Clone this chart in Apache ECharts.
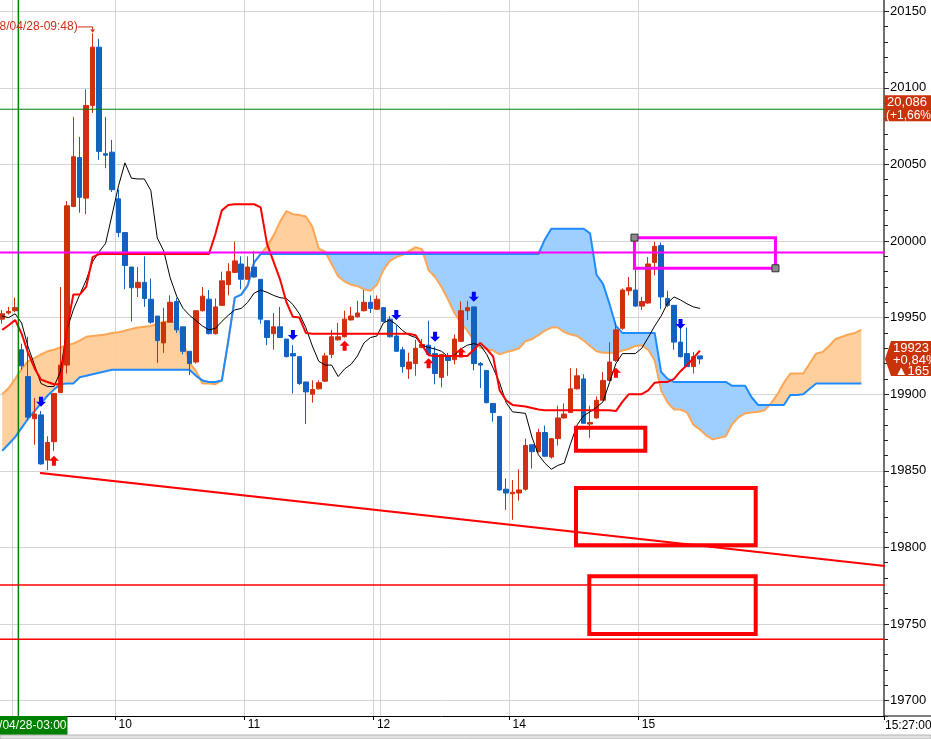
<!DOCTYPE html>
<html><head><meta charset="utf-8">
<script src="https://cdn.jsdelivr.net/npm/echarts@6/dist/echarts.min.js"></script>
<style>html,body{margin:0;padding:0;background:#fff;}#c{width:931px;height:739px;}</style>
</head><body><div id="c"></div>
<script>
// ---------- data ----------
const slotCount = 137;
const categories = Array.from({length: slotCount}, (_, i) => String(i));
const tickIndex = [18, 38, 58, 79, 99];
const tickText = ['10', '11', '12', '14', '15'];
const gridLineIdx = [2, 18, 38, 58, 59, 79, 99];
const sessionStartIdx = 3;

const open = [19949,19953,19954.5,19929,19911.5,19884,19886.5,19857,19869,19901,
19919,20022.5,20054.5,20028,20088.5,20126.5,20057,20058,20027.5,20005.5,
19983,19969.5,19973,19962,19951,19933.5,19947,19960.5,19944,19928,
19921,19954.5,19962,19939.5,19958,19971.5,19979.5,19985,19975,19983,
19975,19948,19939.5,19944,19936,19926.5,19924.5,19908,19900,19903.5,
19908.5,19926,19935.5,19937.5,19948.5,19950.5,19954.5,19960,19955.5,19956.5,
19949,19938,19929,19916.5,19920,19930.5,19932,19926.5,19911,19924.5,
19922.5,19934.5,19954.5,19957,19920,19915.5,19894,19885.5,19838,19835,
19835.5,19838,19867,19862.5,19875,19859,19871,19884.5,19888,19903.5,
19910,19880.5,19884.5,19896,19909,19922,19943,19967.5,19968,19957.5,
19959.5,19986,19997,19962.5,19958,19934,19926.5,19918,19925];
const close = [19952.5,19954,19956.5,19918.5,19885,19887,19854.5,19868.5,19900.5,19919,
20023,20055,20028.5,20088.5,20126.5,20058.5,20056,20033.5,20005.5,19984,
19969.5,19973,19962.5,19947,19935,19947,19960,19942,19928,19920,
19954.5,19964,19939.5,19957,19974,19980,19987,19975,19983,19976.5,
19949,19937,19944,19937,19924.5,19925,19907,19901.5,19903,19907.5,
19925,19937.5,19937.5,19949,19951,19953,19960,19956,19962,19947.5,
19937.5,19928,19918,19921,19930,19932.5,19926,19913.5,19926,19922,
19936,19954.5,19956.5,19920,19919,19894.5,19888,19837.5,19835.5,19836,
19837.5,19866.5,19862.5,19875,19859.5,19871,19884.5,19887,19903.5,19912,
19881,19881.5,19896,19909,19921,19942,19968,19969.5,19957.5,19960.5,
19985,19996.5,19963.5,19958,19934,19924.5,19918,19924.5,19923];
const low = [19946,19952,19953.5,19916,19883,19867,19854,19850.5,19863,19901,
19913.5,20022,20018.5,20017.5,20083.5,20053,20047.5,20032,20002.5,19968.5,
19947.5,19963.5,19957,19946,19920.5,19927,19947,19940,19926,19912.5,
19920,19954,19939,19939,19958,19964.5,19979,19968.5,19975,19976,
19946,19932,19929,19937,19924,19900.5,19906,19880.5,19894.5,19903,
19908,19923.5,19935,19937,19948,19950,19954,19953,19955,19947,
19937,19928,19914,19910,19912,19930,19925,19906.5,19904.5,19912,
19919.5,19934,19948.5,19915.5,19904,19894,19882,19837,19824.5,19818,
19830.5,19837,19851.5,19862,19859,19858,19866.5,19884,19888,19903,
19881,19871.5,19884,19896,19909,19921,19942,19964.5,19957,19955,
19959,19977.5,19955.5,19957,19929,19924,19918,19913.5,19919.5];
const high = [19955,19957,19963,19933,19937.5,19897.5,19889,19872.5,19900.5,19970,
20026,20081,20068,20099,20135.5,20132,20081,20066,20033.5,20005.5,
19983,19983,19990,19975.5,19951,19956.5,19964.5,19963,19944,19928,
19954.5,19970,19968,19962.5,19980,19985.5,19999.5,19990,19990,19993.5,
19975,19948,19953,19957,19936,19932,19924.5,19908,19909,19909,
19927,19942,19946.5,19954.5,19957,19961,19968,19964.5,19964.5,19957,
19951,19945,19931,19927,19935.5,19936,19948,19931,19926,19927,
19939,19960.5,19961,19957,19921,19915.5,19894,19885.5,19845,19844,
19851,19871,19867,19877.5,19879.5,19871,19892.5,19894,19917,19917,
19913,19892.5,19898.5,19914.5,19934,19947,19969,19976.5,19983,19963.5,
19989.5,19999.5,19999,19967.5,19958,19943.5,19943.5,19927.5,19925];

const tenkan = [19951,19950,19952.5,19946.5,19931,19919,19907,19905,19905,19914.5,
19942,19955,19965,19974.5,19986.5,19993,19998.5,20017,20036,20051,
20041,20040.5,20040.5,20033,20002,19993.5,19976,19964,19956,19951.5,
19948,19944.5,19942,19943,19947.5,19951.5,19955,19956,19960,19966,
19968,19966.5,19964.5,19963,19962.5,19958.5,19952.5,19943.5,19931.5,19921.5,
19919,19919,19911.5,19916.5,19919.5,19925,19933.5,19937,19938,19946.5,
19948.5,19945.5,19941.5,19938.5,19937,19932,19930.5,19929.5,19928,19924.5,
19925.5,19929.5,19932,19933,19932,19926,19917,19907.5,19894.5,19888.5,
19888,19887.5,19872,19860.5,19855,19851,19853.5,19855,19868,19880,
19886,19888.5,19891.5,19895,19907.5,19920,19926.5,19926.5,19926.5,19930,
19937,19944.5,19951,19959.5,19963.5,19961.5,19959,19957,19956];

const kijun = [19942,19945,19948.5,19939.5,19927,19917,19909.5,19908,19906.5,19906.5,
19942,19965,19965,19970,19989.5,19991.5,19991.5,19991.5,19991.5,19991.5,
19991.5,19991.5,19991.5,19991.5,19991.5,19991.5,19991.5,19991.5,19991.5,19991.5,
19991.5,19991.5,19991.5,20004.5,20020,20023.5,20024,20024,20024,20024,
20022,19998,19986.5,19975,19960,19950.5,19950,19940,19939.5,19939.5,
19939.5,19939.5,19939.5,19939.5,19939.5,19939.5,19939.5,19939.5,19939.5,19939.5,
19939.5,19939.5,19939.5,19939.5,19938.5,19932,19925.5,19925,19925,19925,
19925,19925,19925,19929,19933.5,19929.5,19924.5,19902.5,19896,19893,
19892.5,19892,19891,19890,19889.5,19889.5,19889.5,19889.5,19889.5,19889.5,
19889.5,19889.5,19889.5,19889.5,19889.5,19889,19895,19900,19900,19900,
19902.5,19907.5,19908,19908,19910,19915,19919,19923.5,19928.5];

const spanA = [19900,19904,19910,19916.5,19921.5,19923.5,19926,19928,19929,19930.5,
19932,19933,19935,19937.5,19938,19938.5,19939,19940,19940.5,19941.5,
19942.5,19943.5,19944,19944.5,19946,19947,19948,19946.5,19934.5,19920.5,
19915,19907,19907,19906.5,19909,19935,19963,19965,19971,19986,
19991.5,19996.5,20003.5,20012.5,20019.5,20017.5,20017,20016,20009.5,19995,
19993,19985,19977,19973.5,19971.5,19970.5,19968.5,19967.5,19971.5,19981,
19987,19989.5,19991,19993.5,19996,19994.5,19981,19976.5,19970,19962,
19953,19946.5,19941.5,19935,19930.5,19929.5,19928.5,19926,19927.5,19928.5,
19930,19934.5,19936,19938.5,19941.5,19943.5,19943.5,19940.5,19939,19938,
19935,19931.5,19928,19927,19927,19927,19928.5,19929.5,19931.5,19932,
19929,19922,19902.5,19894.5,19890,19890,19888,19880,19877,19873,
19870.5,19871.5,19872.5,19880.5,19885,19887.5,19888,19888.5,19889.5,19894,
19900,19907.5,19913.5,19913.5,19913.5,19920,19926.5,19927.5,19931.5,19936,
19937.5,19939,19940,19942];

const spanB = [19863,19867.5,19872,19878,19884,19889,19894,19899,19903,19906.5,
19907,19907,19911,19912,19913,19914,19915,19916,19916,19916,
19916,19916,19916,19916,19916,19916,19916,19916,19916,19916,
19912,19909,19908,19908,19909,19935,19963,19965,19971,19986,
19991.5,19991.5,19991.5,19991.5,19991.5,19991.5,19991.5,19991.5,19991.5,19991.5,
19991.5,19991.5,19991.5,19991.5,19991.5,19991.5,19991.5,19991.5,19991.5,19991.5,
19991.5,19991.5,19991.5,19991.5,19991.5,19991.5,19991.5,19991.5,19991.5,19991.5,
19991.5,19991.5,19991.5,19991.5,19991.5,19991.5,19991.5,19991.5,19991.5,19991.5,
19991.5,19991.5,19991.5,19991.5,20001,20008,20008,20008,20008,20008,
20008,20005,19978,19972,19959,19944.5,19940,19940,19940,19940,
19940,19940,19914.5,19910,19908,19908,19908,19908,19908,19908,
19908,19908,19908,19905.5,19905.5,19905.5,19898,19893,19893,19893,
19893,19893,19899.5,19899.5,19900,19903.5,19907,19907,19907,19907,
19907,19907,19907,19907];

// drawn annotations (slot position, price)
const resistancePrice = 19992.5;
const refLevel = 20086;
const refChange = '(+1,66%)';
const supportLevels = [19775.5, 19740];
const trendStart = [6.5, 19848.5];
const trendEnd = [137, 19788];
const redBoxA = [89.32, 100.05, 19863.1, 19878.1];
const redBoxB = [89.32, 117.14, 19801.4, 19838.8];
const redBoxC = [91.38, 117.14, 19743.5, 19781.2];
const pinkBox = [98.37, 120.2, 19982.2, 20002.2];
const downSignalIdx = [6, 45, 61, 67, 73, 105];
const downSignalPrice = [19895, 19938.6, 19951.7, 19937.5, 19963.6, 19945.8];
const upSignalIdx = [8, 53, 66, 71, 95];
const upSignalPrice = [19856.6, 19931.7, 19920.2, 19927.3, 19914];
const lastChange = '+0,84%';
const lastDiff = '\u25B2165';
const highStamp = '(2018/04/28-09:48)';
const sessionLabel = '2018/04/28-03:00';
const timeLabel = '15:27:00';

// ---------- chart ----------
const FONT = "'Liberation Sans', Arial, sans-serif";
const cloudBase = spanA.map((a, i) => Math.min(a, spanB[i]));
const cloudUp = spanA.map((a, i) => Math.max(a - spanB[i], 0));
const cloudDown = spanA.map((a, i) => Math.max(spanB[i] - a, 0));
const boxPts = b => [[b[0], b[2]], [b[1], b[2]], [b[1], b[3]], [b[0], b[3]], [b[0], b[2]]];
const L = {type: 'line', symbol: 'none', smooth: false, silent: true};
const ov = (data, color, width, z) => Object.assign({}, L, {xAxisIndex: 1, yAxisIndex: 0, data,
  lineStyle: {color, width, join: 'miter', cap: 'square'}, z});
const downPath = 'path://M3,0 L7,0 L7,5 L10,5 L5,10 L0,5 L3,5 Z';
const upPath = 'path://M5,0 L10,5 L7,5 L7,10 L3,10 L3,5 L0,5 Z';

const chart = echarts.init(document.getElementById('c'), null, {renderer: 'canvas'});
const option = {
  animation: false,
  backgroundColor: '#fff',
  grid: [
    {left: -1, right: 47, top: -65.4, bottom: -38.2, containLabel: false, outerBoundsMode: 'none'},
    {left: -1, right: 47, top: 715, height: 1, containLabel: false, outerBoundsMode: 'none'}
  ],
  xAxis: [
    {type: 'category', gridIndex: 0, data: categories, boundaryGap: true,
      axisLine: {show: false, onZero: false}, axisTick: {show: false}, axisLabel: {show: false},
      splitLine: {show: true, interval: (i) => gridLineIdx.includes(i), lineStyle: {color: '#d4d4d4', width: 1}}},
    {type: 'value', gridIndex: 0, min: 0, max: slotCount, show: false,
      axisLine: {show: false, onZero: false}, axisTick: {show: false}, minorTick: {show: false},
      axisLabel: {show: false}, splitLine: {show: false}},
    {type: 'category', gridIndex: 1, data: categories, boundaryGap: true, zlevel: 1, z: 10,
      axisLine: {show: true, onZero: false, lineStyle: {color: '#000', width: 1}},
      axisTick: {show: true, interval: (i) => tickIndex.includes(i), length: 4, lineStyle: {color: '#000'}},
      axisLabel: {show: true, interval: (i) => tickIndex.includes(i),
        formatter: (v, i) => { const k = tickIndex.indexOf(Number(v)); return k >= 0 ? tickText[k] : ''; },
        align: 'left', margin: 3, fontSize: 12, color: '#000', fontFamily: FONT},
      splitLine: {show: false}}
  ],
  yAxis: [
    {type: 'value', gridIndex: 0, position: 'right', min: 19650, max: 20200, interval: 50,
      axisLine: {show: true, onZero: false, lineStyle: {color: '#707070', width: 2}},
      axisTick: {show: true, length: 5, lineStyle: {color: '#222'}},
      minorTick: {show: true, splitNumber: 5, length: 4, lineStyle: {color: '#222'}},
      axisLabel: {margin: 6, fontSize: 13, color: '#000', fontFamily: FONT, formatter: (v) => String(v)},
      splitLine: {show: true, lineStyle: {color: '#d4d4d4', width: 1}}},
    {type: 'value', gridIndex: 1, show: false,
      axisLine: {show: false, onZero: false}, axisTick: {show: false}, minorTick: {show: false},
      axisLabel: {show: false}, splitLine: {show: false}}
  ],
  series: [
    Object.assign({}, L, {name: 'cloudBase', xAxisIndex: 0, yAxisIndex: 0, stack: 'cloud', data: cloudBase, lineStyle: {width: 0, opacity: 0}, z: 1}),
    Object.assign({}, L, {name: 'cloudUp', xAxisIndex: 0, yAxisIndex: 0, stack: 'cloud', data: cloudUp, lineStyle: {width: 0, opacity: 0}, areaStyle: {color: '#ffcc99', opacity: 0.95}, z: 1}),
    Object.assign({}, L, {name: 'cloudDown', xAxisIndex: 0, yAxisIndex: 0, stack: 'cloud', data: cloudDown, lineStyle: {width: 0, opacity: 0}, areaStyle: {color: '#99ccff', opacity: 0.95}, z: 1}),
    Object.assign({}, L, {name: 'spanA', xAxisIndex: 0, yAxisIndex: 0, data: spanA, lineStyle: {color: '#ffa655', width: 2}, z: 2}),
    Object.assign({}, L, {name: 'spanB', xAxisIndex: 0, yAxisIndex: 0, data: spanB, lineStyle: {color: '#1e8cff', width: 2}, z: 2}),
    {type: 'candlestick', name: 'price', xAxisIndex: 0, yAxisIndex: 0, barWidth: 5,
      data: open.map((o, i) => [o, close[i], low[i], high[i]]),
      itemStyle: {color: '#d0300e', color0: '#1462c0', borderColor: '#d0300e', borderColor0: '#1462c0', borderWidth: 1}, z: 3},
    Object.assign({}, L, {name: 'tenkan', xAxisIndex: 0, yAxisIndex: 0, data: tenkan, lineStyle: {color: '#000', width: 1}, z: 4}),
    Object.assign({}, L, {name: 'kijun', xAxisIndex: 0, yAxisIndex: 0, data: kijun, lineStyle: {color: '#ff0000', width: 2}, z: 4}),
    ov([[0, refLevel], [slotCount, refLevel]], '#008000', 1, 5),
    ov([[sessionStartIdx, 19650], [sessionStartIdx, 20200]], '#008000', 1.5, 5),
    ov([[0, resistancePrice], [slotCount, resistancePrice]], '#ff00ff', 2, 5),
    ov([[0, supportLevels[0]], [slotCount, supportLevels[0]]], '#ff0000', 1.5, 5),
    ov([[0, supportLevels[1]], [slotCount, supportLevels[1]]], '#ff0000', 1.5, 5),
    ov([trendStart, trendEnd], '#ff0000', 2, 5),
    ov(boxPts(redBoxA), '#ff0000', 4, 6),
    ov(boxPts(redBoxB), '#ff0000', 4, 6),
    ov(boxPts(redBoxC), '#ff0000', 4, 6),
    ov(boxPts(pinkBox), '#ff00ff', 3, 6),
    {type: 'scatter', xAxisIndex: 1, yAxisIndex: 0, symbol: 'rect', symbolSize: 7, silent: true, z: 7,
      data: [[pinkBox[0], pinkBox[3]], [pinkBox[1], pinkBox[2]]],
      itemStyle: {color: '#8c8c8c', borderColor: '#303030', borderWidth: 1, opacity: 1}},
    {type: 'scatter', xAxisIndex: 1, yAxisIndex: 0, symbol: downPath, symbolSize: [10, 10], silent: true, z: 7,
      data: downSignalIdx.map((d, k) => [d + 0.5, downSignalPrice[k]]), itemStyle: {color: '#0000ff', opacity: 1}},
    {type: 'scatter', xAxisIndex: 1, yAxisIndex: 0, symbol: upPath, symbolSize: [10, 10], silent: true, z: 7,
      data: upSignalIdx.map((d, k) => [d + 0.5, upSignalPrice[k]]), itemStyle: {color: '#ff0000', opacity: 1}}
  ]
};
chart.setOption(option);

// ---------- price tags and annotation text ----------
const px = (x, y) => chart.convertToPixel({xAxisIndex: 1, yAxisIndex: 0}, [x, y]);
const yRef = px(0, refLevel)[1];
const last = close[close.length - 1];
const yLast = px(0, last)[1];
let hiIdx = 0; high.forEach((h, i) => { if (h > high[hiIdx]) hiIdx = i; });
const hp = px(hiIdx + 0.5, high[hiIdx]);
const tagColor = '#c8330a';
const tf = (s) => s + 'px ' + FONT;
const fmt = (v) => String(Math.round(v)).replace(/(\d{2})(\d{3})$/, '$1,$2');

chart.setOption({graphic: [
  {type: 'rect', shape: {x: 884.5, y: yRef - 14, width: 47, height: 26}, style: {fill: tagColor}, z: 100},
  {type: 'text', style: {text: fmt(refLevel), x: 907, y: yRef - 7, fill: '#fff', font: tf(13), align: 'center', verticalAlign: 'middle'}, z: 101},
  {type: 'text', style: {text: refChange, x: 886, y: yRef + 6, fill: '#fff', font: tf(12), align: 'left', verticalAlign: 'middle'}, z: 101},
  {type: 'polygon', shape: {points: [[885, yLast], [891, yLast - 18], [931, yLast - 18], [931, yLast + 17], [891, yLast + 17]]}, style: {fill: tagColor}, z: 100},
  {type: 'text', style: {text: String(last), x: 911, y: yLast - 11, fill: '#fff', font: tf(13), align: 'center', verticalAlign: 'middle'}, z: 101},
  {type: 'text', style: {text: lastChange, x: 893, y: yLast + 1, fill: '#fff', font: tf(13), align: 'left', verticalAlign: 'middle'}, z: 101},
  {type: 'text', style: {text: lastDiff, x: 912, y: yLast + 12, fill: '#fff', font: tf(13), align: 'center', verticalAlign: 'middle'}, z: 101},
  {type: 'text', style: {text: highStamp, x: hp[0] - 15, y: hp[1] - 6.5, fill: '#d03010', font: tf(12), align: 'right', verticalAlign: 'middle'}, z: 101},
  {type: 'polyline', shape: {points: [[hp[0] - 15, hp[1] - 6.5], [hp[0], hp[1] - 6.5], [hp[0], hp[1] - 2]]}, style: {stroke: '#d03010', lineWidth: 1, fill: null}, z: 101},
  {type: 'polygon', shape: {points: [[hp[0] - 2.5, hp[1] - 4], [hp[0] + 2.5, hp[1] - 4], [hp[0], hp[1] - 1]]}, style: {fill: '#d03010'}, z: 101},
  // x-axis strip
  {type: 'rect', zlevel: 1, z: 1, shape: {x: 0, y: 716.5, width: 931, height: 23}, style: {fill: '#fff'}},
  {type: 'line', zlevel: 1, z: 11, shape: {x1: 884, y1: 716, x2: 931, y2: 716}, style: {stroke: '#000', lineWidth: 1}},
  {type: 'rect', zlevel: 1, z: 11, shape: {x: 0, y: 716, width: 67.5, height: 19}, style: {fill: '#008000'}},
  {type: 'text', zlevel: 1, z: 12, style: {text: sessionLabel, x: 66.5, y: 726, fill: '#fff', font: tf(12), align: 'right', verticalAlign: 'middle'}},
  {type: 'text', zlevel: 1, z: 12, style: {text: timeLabel, x: 885, y: 726, fill: '#000', font: tf(12), align: 'left', verticalAlign: 'middle'}},
  {type: 'rect', zlevel: 1, z: 11, shape: {x: 0, y: 735, width: 931, height: 4}, style: {fill: '#e2e2e2', stroke: '#b4b4b4', lineWidth: 1}}
]});
</script>
</body></html>
